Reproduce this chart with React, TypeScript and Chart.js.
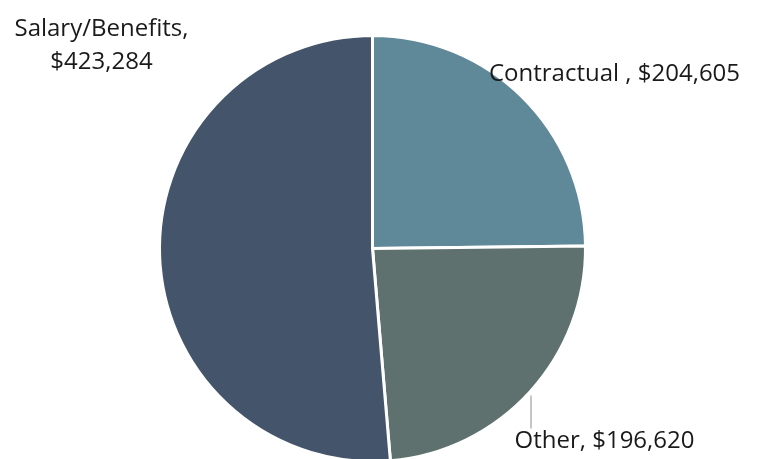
import React, { useEffect, useRef } from "react";
import { Chart, registerables } from "chart.js";

Chart.register(...registerables);

const categories = ["Contractual", "Other", "Salary/Benefits"];
const values = [204605, 196620, 423284];
const colors = ["#5f8899", "#5f716f", "#44546a"];

const fmt = (v: number) => "$" + v.toLocaleString("en-US");

// label layout: offsets relative to pie center (cx, cy) in pixels
const labelLayout = [
  { lines: (c: string, v: number) => [c + " , " + fmt(v)], dx: 242, dy: -174 },
  { lines: (c: string, v: number) => [c + ", " + fmt(v)], dx: 232, dy: 193, leader: { dx: 158, y1: 147, y2: 180 } },
  { lines: (c: string, v: number) => [c + ",", fmt(v)], dx: -271, dy: -203, lh: 33 },
];

const labelPlugin = {
  id: "pieLabels",
  afterDraw(chart: any) {
    const ctx = chart.ctx;
    const meta = chart.getDatasetMeta(0);
    const arc0 = meta.data[0];
    const cx = arc0.x;
    const cy = arc0.y;
    ctx.save();
    ctx.font = "24px 'Open Sans'";
    ctx.fillStyle = "#1a1a1a";
    ctx.textAlign = "center";
    ctx.textBaseline = "middle";
    labelLayout.forEach((l: any, i: number) => {
      const lines = l.lines(categories[i], values[i]);
      const lh = l.lh || 26;
      lines.forEach((t: string, j: number) => {
        ctx.fillText(t, cx + l.dx, cy + l.dy + (j - (lines.length - 1) / 2) * lh);
      });
      if (l.leader) {
        ctx.strokeStyle = "#b3b3b3";
        ctx.lineWidth = 1.5;
        ctx.beginPath();
        ctx.moveTo(cx + l.leader.dx + 0.5, cy + l.leader.y1);
        ctx.lineTo(cx + l.leader.dx + 0.5, cy + l.leader.y2);
        ctx.stroke();
      }
    });
    ctx.restore();
  },
};

export default function App() {
  const ref = useRef<HTMLCanvasElement>(null);
  useEffect(() => {
    const chart = new Chart(ref.current!, {
      type: "pie",
      data: {
        labels: categories,
        datasets: [
          {
            data: values,
            backgroundColor: colors,
            borderColor: "#ffffff",
            borderWidth: 3,
          },
        ],
      },
      options: {
        responsive: false,
        animation: false,
        events: [],
        layout: { padding: { top: 34, bottom: 480 - 34 - 429, left: 158, right: 765 - 158 - 429 } },
        plugins: { legend: { display: false }, tooltip: { enabled: false } },
      },
      plugins: [labelPlugin],
    });
    return () => chart.destroy();
  }, []);
  return (
    <div style={{ position: "fixed", left: 0, top: 0, width: 765, height: 459, overflow: "hidden", background: "#fff" }}>
      <canvas ref={ref} width={765} height={480} style={{ width: 765, height: 480, display: "block" }} />
    </div>
  );
}
